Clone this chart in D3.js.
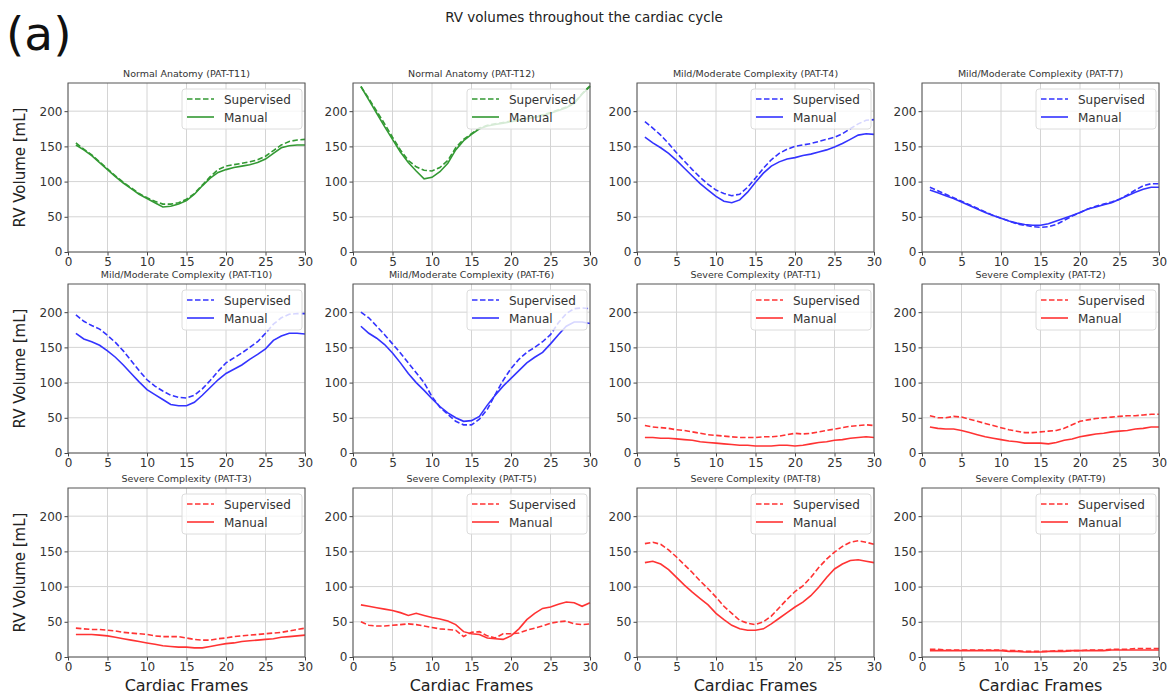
<!DOCTYPE html>
<html>
<head>
<meta charset="utf-8">
<script src="https://cdn.jsdelivr.net/npm/d3@7"></script>
<style>
  body { margin: 0; background: #fff; }
  svg { font-family: "DejaVu Sans", sans-serif; }
</style>
</head>
<body>
<div id="chart"></div>
<script>
const frames = d3.range(1, 31)
const xTicks = [0, 5, 10, 15, 20, 25, 30]
const yTicks = [0, 50, 100, 150, 200]

const titles = [
	'Normal Anatomy (PAT-T11)', 'Normal Anatomy (PAT-T12)', 'Mild/Moderate Complexity (PAT-T4)', 'Mild/Moderate Complexity (PAT-T7)',
	'Mild/Moderate Complexity (PAT-T10)', 'Mild/Moderate Complexity (PAT-T6)', 'Severe Complexity (PAT-T1)', 'Severe Complexity (PAT-T2)',
	'Severe Complexity (PAT-T3)', 'Severe Complexity (PAT-T5)', 'Severe Complexity (PAT-T8)', 'Severe Complexity (PAT-T9)'
]
const groups = ['normal', 'normal', 'mild', 'mild', 'mild', 'mild', 'severe', 'severe', 'severe', 'severe', 'severe', 'severe']

const supervised = [
	[155,146,138,128,118,108,99,91,83,77,72,68,68,70,75,83,95,107,117,122,124,126,128,131,136,144,152,157,159,160],
	[235,218,200,182,163,145,130,121,116,115,120,130,148,160,168,176,180,182,184,186,188,190,192,195,198,202,206,212,225,236],
	[185,176,166,154,141,129,117,106,96,88,83,80,82,92,105,119,131,140,146,150,152,154,157,160,163,168,175,182,187,188],
	[92,87,82,77,72,67,62,57,52,48,44,40,38,36,35,36,39,45,51,56,61,65,68,71,75,81,88,94,97,97],
	[196,187,181,176,167,157,145,131,117,104,95,88,82,79,78,82,91,103,116,128,135,142,150,158,170,183,192,197,198,198],
	[200,192,180,168,155,142,128,114,100,80,65,55,45,40,40,48,62,83,103,120,133,143,150,158,168,185,198,205,206,205],
	[39,37,36,35,33,32,30,28,26,25,24,23,22,22,22,23,23,24,26,28,27,28,30,32,34,36,38,39,40,39],
	[53,50,50,52,51,48,45,42,39,36,33,31,29,29,30,31,32,35,40,45,47,49,50,51,52,53,53,54,55,55],
	[41,40,39,39,38,37,35,34,33,32,30,29,29,29,27,25,24,24,26,27,29,30,31,32,33,34,35,37,39,41],
	[50,45,44,44,45,46,47,46,44,42,40,39,38,29,35,36,30,27,33,33,34,38,41,44,48,50,51,47,46,47],
	[161,163,160,152,142,131,120,108,97,85,72,62,52,48,46,50,58,70,82,93,101,113,127,139,149,157,163,165,163,160],
	[11,11,10,10,10,10,10,10,10,10,9,9,8,8,8,8,9,9,9,9,10,10,10,11,11,11,12,12,12,12]
]
const manual = [
	[152,145,137,127,117,107,98,90,82,76,70,64,65,68,73,82,94,105,113,117,120,122,124,127,132,140,148,151,152,152],
	[235,216,197,178,160,142,127,115,104,106,114,126,145,158,167,175,179,181,183,185,187,189,191,194,197,201,205,211,224,235],
	[163,155,148,140,130,119,108,97,88,79,72,70,74,85,99,112,122,128,132,134,137,139,142,145,149,154,160,166,168,167],
	[88,84,80,76,71,66,61,56,52,48,44,41,39,38,38,40,44,48,52,56,61,64,67,70,75,80,85,89,92,92],
	[170,162,158,153,145,136,125,113,101,90,83,76,69,67,67,72,82,93,104,113,119,125,133,140,148,160,166,170,170,169],
	[180,170,163,154,142,128,113,100,89,77,66,57,50,45,46,52,68,82,95,106,117,128,136,143,155,168,180,186,186,184],
	[22,22,21,21,20,19,18,16,15,14,13,12,11,11,10,10,10,11,11,10,11,13,15,16,18,19,21,22,23,22],
	[37,35,34,34,32,29,26,23,21,19,17,16,14,14,14,13,15,18,20,23,25,27,28,30,31,32,34,35,37,37],
	[32,32,32,31,30,28,26,24,22,20,18,16,15,14,14,13,13,15,17,19,20,22,23,24,25,26,28,29,30,31],
	[74,72,70,68,66,63,59,62,59,56,54,51,46,36,33,32,27,26,25,30,40,53,62,69,71,75,78,77,72,77],
	[134,136,132,124,113,102,92,83,74,62,53,45,40,38,38,40,47,55,63,71,78,87,99,113,125,132,137,138,136,134],
	[9,9,9,9,9,9,9,9,9,9,8,8,7,7,7,8,8,8,9,9,9,9,9,10,10,10,10,10,10,10]
]

const colors = { normal: 'rgb(51,153,51)', mild: 'rgb(51,51,255)', severe: 'rgb(255,51,51)' }

const width = 1169
const height = 698
const plotW = 237
const plotH = 169
const colLeft = [68, 353, 637, 922]
const rowTop = [83, 284, 488]

const svg = d3.select('#chart').append('svg')
	.attr('width', width)
	.attr('height', height)

svg.append('text')
	.attr('x', 584).attr('y', 22)
	.attr('text-anchor', 'middle')
	.attr('font-size', 13.5)
	.attr('fill', '#222')
	.text('RV volumes throughout the cardiac cycle')

svg.append('text')
	.attr('x', 6).attr('y', 50)
	.attr('font-size', 47)
	.attr('fill', '#111')
	.text('(a)')

titles.forEach((title, i) => {
	const row = Math.floor(i / 4)
	const col = i % 4
	const g = svg.append('g').attr('transform', `translate(${colLeft[col]},${rowTop[row]})`)
	const color = colors[groups[i]]

	const x = d3.scaleLinear().domain([0, 30]).range([0, plotW])
	const y = d3.scaleLinear().domain([0, 240]).range([plotH, 0])

	// grid
	g.append('g').selectAll('line').data(xTicks).enter().append('line')
		.attr('x1', d => x(d)).attr('x2', d => x(d))
		.attr('y1', 0).attr('y2', plotH)
		.attr('stroke', '#d4d4d4').attr('stroke-width', 1)
	g.append('g').selectAll('line').data(yTicks).enter().append('line')
		.attr('x1', 0).attr('x2', plotW)
		.attr('y1', d => y(d)).attr('y2', d => y(d))
		.attr('stroke', '#d4d4d4').attr('stroke-width', 1)

	const line = d3.line().x((d, k) => x(frames[k])).y(d => y(d)).curve(d3.curveLinear)

	g.append('path').datum(supervised[i])
		.attr('d', line)
		.attr('fill', 'none')
		.attr('stroke', color)
		.attr('stroke-width', 1.6)
		.attr('stroke-dasharray', '5.5,2.5')

	g.append('path').datum(manual[i])
		.attr('d', line)
		.attr('fill', 'none')
		.attr('stroke', color)
		.attr('stroke-width', 1.6)

	// axes
	const xAxis = g.append('g').attr('transform', `translate(0,${plotH})`)
		.call(d3.axisBottom(x).tickValues(xTicks).tickSize(3.5).tickPadding(2))
	const yAxis = g.append('g')
		.call(d3.axisLeft(y).tickValues(yTicks).tickSize(3.5).tickPadding(2))
	;[xAxis, yAxis].forEach(a => {
		a.select('.domain').remove()
		a.selectAll('line').attr('stroke', '#444')
		a.selectAll('text').attr('font-size', 12).attr('fill', '#333').attr('font-family', '"DejaVu Sans", sans-serif')
	})

	g.append('rect')
		.attr('width', plotW).attr('height', plotH)
		.attr('fill', 'none').attr('stroke', '#555').attr('stroke-width', 1)

	// legend
	const lg = g.append('g').attr('transform', `translate(${plotW - 123},6)`)
	lg.append('rect')
		.attr('width', 120).attr('height', 40).attr('rx', 3)
		.attr('fill', 'white').attr('fill-opacity', 0.8)
		.attr('stroke', '#dcdcdc')
	const entries = [['Supervised', '5.5,2.5'], ['Manual', null]]
	entries.forEach((e, k) => {
		const yy = 10 + k * 18
		lg.append('line')
			.attr('x1', 5).attr('x2', 32).attr('y1', yy).attr('y2', yy)
			.attr('stroke', color).attr('stroke-width', 1.6)
			.attr('stroke-dasharray', e[1])
		lg.append('text')
			.attr('x', 42).attr('y', yy + 4.5)
			.attr('font-size', 12).attr('fill', '#333')
			.text(e[0])
	})

	g.append('text')
		.attr('x', plotW / 2).attr('y', -6)
		.attr('text-anchor', 'middle')
		.attr('font-size', 9.5).attr('fill', '#333')
		.text(title)

	if (col === 0) {
		g.append('text')
			.attr('transform', `translate(-43,${plotH / 2}) rotate(-90)`)
			.attr('text-anchor', 'middle')
			.attr('font-size', 15).attr('fill', '#222')
			.text('RV Volume [mL]')
	}
	if (row === 2) {
		g.append('text')
			.attr('x', plotW / 2).attr('y', plotH + 34)
			.attr('text-anchor', 'middle')
			.attr('font-size', 16).attr('fill', '#222')
			.text('Cardiac Frames')
	}
})
</script>
</body>
</html>
